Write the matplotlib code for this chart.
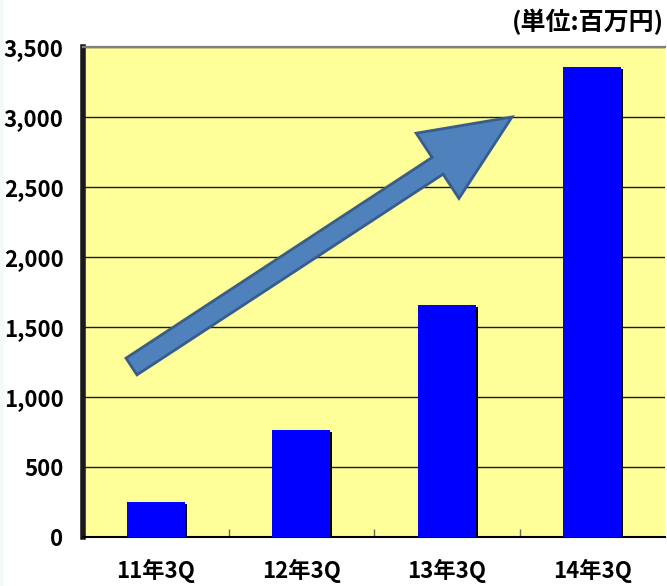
import matplotlib
matplotlib.use('Agg')
import matplotlib.pyplot as plt
import matplotlib.patheffects as pe
from matplotlib.patches import FancyArrow, Rectangle
from matplotlib.transforms import IdentityTransform
from matplotlib.ticker import FixedLocator, FuncFormatter

# data (unit: million yen)
quarters = ['11年3Q', '12年3Q', '13年3Q', '14年3Q']
sales = [250, 765, 1660, 3360]
y_ticks = [0, 500, 1000, 1500, 2000, 2500, 3000, 3500]
unit_label = '(単位:百万円)'

W, H = 667, 586
fig = plt.figure(figsize=(W / 100, H / 100), dpi=100)
fig.patch.set_facecolor('white')
# faint cyan strip at the left edge of the original screenshot
fig.patches.append(Rectangle((0, 0), 3 / W, 1, transform=fig.transFigure,
                             color='#F2FAFC', zorder=0))

ax = fig.add_axes([83 / W, 1 - 537 / H, (665 - 83) / W, (537 - 47) / H])
ax.set_facecolor('#FFFF99')

x = list(range(len(quarters)))
bars = ax.bar(x, sales, width=0.40, color='#0000FF', zorder=3)
for b in bars:
    b.set_path_effects([pe.SimplePatchShadow(offset=(1.5, -1.5), shadow_rgbFace='black', alpha=1.0),
                        pe.Normal()])

ax.set_xlim(-0.5, len(quarters) - 0.5)
ax.set_ylim(y_ticks[0], y_ticks[-1])
ax.set_yticks(y_ticks)
ax.yaxis.set_major_formatter(FuncFormatter(lambda v, p: f'{int(v):,}'))
ax.set_xticks(x)
ax.set_xticklabels(quarters)
ax.xaxis.set_minor_locator(FixedLocator([0.5, 1.5, 2.5]))

ax.set_axisbelow(True)
ax.yaxis.grid(True, color='#1a1a1a', linewidth=1.0)

ax.tick_params(axis='x', which='major', length=0, pad=16)
ax.tick_params(axis='x', which='minor', direction='in', length=6, width=1, color='#666666')
ax.tick_params(axis='y', which='major', length=0, pad=14)

jp_font = ['Noto Sans CJK JP', 'DejaVu Sans']
for lab in ax.get_yticklabels():
    lab.set_fontfamily(jp_font)
    lab.set_fontsize(16)
    lab.set_fontweight('bold')
for lab in ax.get_xticklabels():
    lab.set_fontfamily(jp_font)
    lab.set_fontsize(16)
    lab.set_fontweight('bold')

ax.spines['right'].set_visible(False)
ax.spines['top'].set_color('#7f7f7f')
ax.spines['top'].set_linewidth(1.6)
ax.spines['bottom'].set_color('black')
ax.spines['bottom'].set_linewidth(1.5)
ax.spines['left'].set_color('#1a1a1a')
ax.spines['left'].set_linewidth(4.0)

# upward trend arrow (decoration, placed in pixel space)
arrow = FancyArrow(131.5, H - 366.5, 380.5, 249.5, width=20, head_width=78,
                   head_length=89, length_includes_head=True,
                   facecolor='#4F81BD', edgecolor='#385D8A', linewidth=2,
                   transform=IdentityTransform(), zorder=5)
fig.add_artist(arrow)

fig.text(664 / W, 1 - 22 / H, unit_label, ha='right', va='center',
         fontsize=18, fontweight='bold', family=jp_font)

fig.savefig('out.png', dpi=100)
